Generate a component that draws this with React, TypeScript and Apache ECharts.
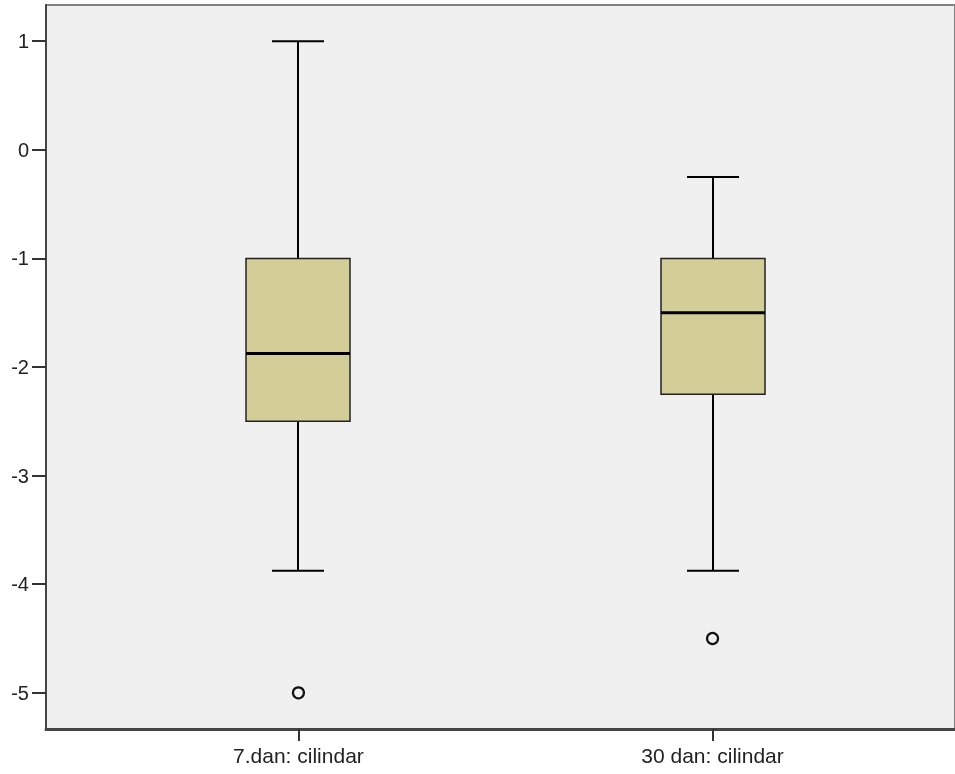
import React, { useEffect, useRef } from "react";
import * as echarts from "echarts";

// ---- data ----
const categories = ["7.dan: cilindar", "30 dan: cilindar"];
const whiskerLow = [-3.875, -3.875];
const q1 = [-2.5, -2.25];
const median = [-1.875, -1.5];
const q3 = [-1, -1];
const whiskerHigh = [1, -0.25];
const outlierCategory = [0, 1];
const outlierValues = [-5, -4.5];
const yTicks = [-5, -4, -3, -2, -1, 0, 1];
const xTicks = [0, 1];

// ---- axis ranges ----
const Y_MIN = -5.333;
const Y_MAX = 1.333;
const X_MIN = -0.6096;
const X_MAX = 1.5855;

const BOX_W = 104;
const FONT = "'Liberation Sans', Arial, sans-serif";

export default function App() {
  const ref = useRef<HTMLDivElement>(null);

  useEffect(() => {
    if (!ref.current) return;
    const chart = echarts.init(ref.current, null, { renderer: "svg" });

    const boxData = categories.map((_, i) => [
      i,
      whiskerLow[i],
      q1[i],
      median[i],
      q3[i],
      whiskerHigh[i],
    ]);
    const outlierData = outlierCategory.map((c, i) => [c, outlierValues[i]]);

    chart.setOption({
      animation: false,
      grid: {
        left: 46,
        right: -2,
        top: 5,
        bottom: 45,
        show: true,
        backgroundColor: "#f0f0f0",
        borderColor: "#808080",
        borderWidth: 2,
      },
      xAxis: {
        type: "value",
        min: X_MIN,
        max: X_MAX,
        splitLine: { show: false },
        axisLine: { show: true, onZero: false, lineStyle: { color: "#444", width: 3 } },
        axisTick: {
          show: true,
          customValues: xTicks,
          length: 12,
          lineStyle: { color: "#333", width: 2 },
        },
        axisLabel: {
          customValues: xTicks,
          formatter: (v: number) => categories[Math.round(v)] ?? "",
          margin: 16,
          fontSize: 21,
          color: "#222",
          fontFamily: FONT,
        },
      },
      yAxis: {
        type: "value",
        min: Y_MIN,
        max: Y_MAX,
        splitLine: { show: false },
        axisLine: { show: true, onZero: false, lineStyle: { color: "#444", width: 2 } },
        axisTick: {
          show: true,
          customValues: yTicks,
          length: 14,
          lineStyle: { color: "#333", width: 2 },
        },
        axisLabel: {
          customValues: yTicks,
          margin: 17,
          fontSize: 20,
          color: "#222",
          fontFamily: FONT,
        },
      },
      series: [
        {
          type: "custom",
          data: boxData,
          renderItem: (params: any, api: any) => {
            const x = api.value(0);
            const lo = api.coord([x, api.value(1)]);
            const pq1 = api.coord([x, api.value(2)]);
            const pmed = api.coord([x, api.value(3)]);
            const pq3 = api.coord([x, api.value(4)]);
            const hi = api.coord([x, api.value(5)]);
            const cx = Math.round(lo[0]);
            const half = BOX_W / 2;
            const cap = BOX_W / 4;
            const lineStyle = { stroke: "#000", lineWidth: 2 };
            return {
              type: "group",
              children: [
                { type: "line", shape: { x1: cx, y1: lo[1], x2: cx, y2: pq1[1] }, style: lineStyle },
                { type: "line", shape: { x1: cx, y1: pq3[1], x2: cx, y2: hi[1] }, style: lineStyle },
                { type: "line", shape: { x1: cx - cap, y1: lo[1], x2: cx + cap, y2: lo[1] }, style: lineStyle },
                { type: "line", shape: { x1: cx - cap, y1: hi[1], x2: cx + cap, y2: hi[1] }, style: lineStyle },
                {
                  type: "rect",
                  shape: { x: cx - half, y: pq3[1], width: BOX_W, height: pq1[1] - pq3[1] },
                  style: { fill: "#d3ce98", stroke: "#222", lineWidth: 1.5 },
                },
                {
                  type: "line",
                  shape: { x1: cx - half, y1: pmed[1], x2: cx + half, y2: pmed[1] },
                  style: { stroke: "#000", lineWidth: 3 },
                },
              ],
            };
          },
        },
        {
          type: "scatter",
          data: outlierData,
          symbol: "circle",
          symbolSize: 11,
          itemStyle: { color: "#f0f0f0", borderColor: "#111", borderWidth: 2.2, opacity: 1 },
        },
      ],
    });

    return () => chart.dispose();
  }, []);

  return (
    <div
      ref={ref}
      style={{ position: "fixed", left: 0, top: 0, width: 955, height: 774 }}
    />
  );
}
